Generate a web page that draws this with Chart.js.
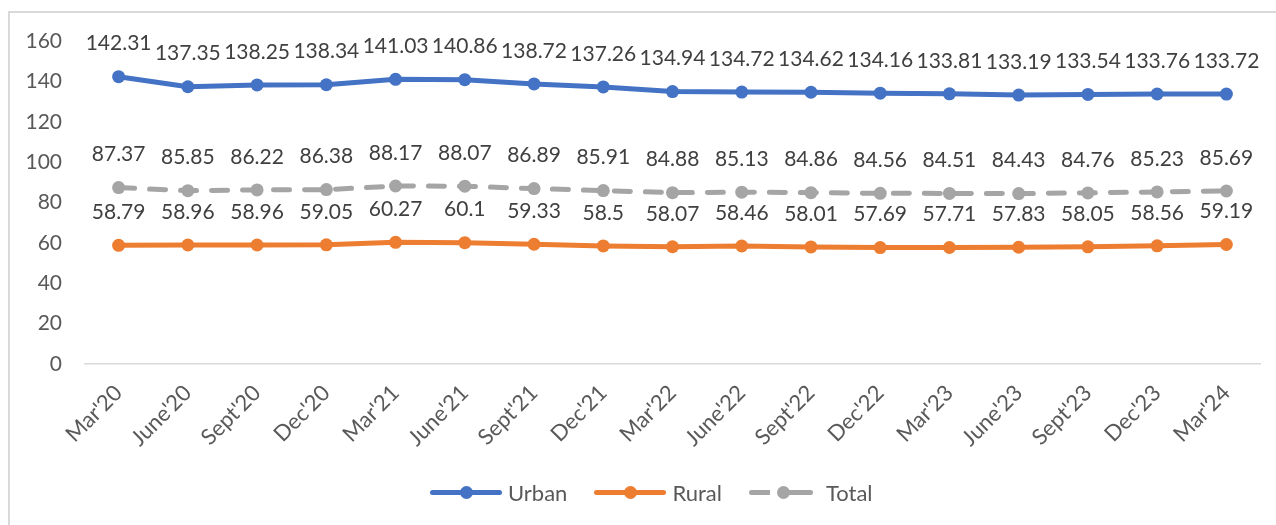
<!DOCTYPE html>
<html>
<head>
<meta charset="utf-8">
<script src="https://cdn.jsdelivr.net/npm/chart.js@4.4.1/dist/chart.umd.min.js"></script>
<style>
body { margin: 0; background: #fff; }
#wrap { position: relative; width: 1276px; height: 525px; overflow: hidden; font-family: Lato, sans-serif; }
#frame { position: absolute; left: 8px; top: 11px; width: 1400px; height: 600px; border-left: 2px solid #d9d9d9; border-top: 2px solid #d9d9d9; }
#chart { position: absolute; left: 0; top: 0; }
#legend { position: absolute; left: 430px; top: 479px; height: 26px; display: flex; align-items: center; font-size: 22px; color: #595959; }
#legend .item { display: flex; align-items: center; margin-right: 27px; }
#legend .mk { position: relative; width: 72px; height: 5px; border-radius: 3px; margin-right: 6px; }
#legend .mk::after { content: ""; position: absolute; left: 50%; top: 50%; width: 13px; height: 13px; margin: -6.5px 0 0 -6.5px; border-radius: 50%; background: inherit; }
#legend .mk.dash { width: 64px; margin-right: 13px; background: none; }
#legend .mk.dash::before { content: ""; position: absolute; left: 0; top: 0; height: 5px; width: 64px; border-radius: 3px;
  background: linear-gradient(to right, #a5a5a5 0 21px, transparent 21px 36px, #a5a5a5 36px 64px); }
#legend .mk.dash::after { left: 35px; background: #a5a5a5; }
</style>
</head>
<body>
<div id="wrap">
	<div id="frame"></div>
	<canvas id="chart" width="1276" height="525"></canvas>
	<div id="legend">
		<span class="item"><span class="mk" style="background:#4472C4"></span>Urban</span>
		<span class="item"><span class="mk" style="background:#ED7D31"></span>Rural</span>
		<span class="item"><span class="mk dash"></span>Total</span>
	</div>
</div>
<script>
// Quarters on the x axis
const quarters = ["Mar'20", "June'20", "Sept'20", "Dec'20", "Mar'21", "June'21", "Sept'21", "Dec'21",
	"Mar'22", "June'22", "Sept'22", "Dec'22", "Mar'23", "June'23", "Sept'23", "Dec'23", "Mar'24"];

const urban = [142.31, 137.35, 138.25, 138.34, 141.03, 140.86, 138.72, 137.26, 134.94, 134.72, 134.62, 134.16, 133.81, 133.19, 133.54, 133.76, 133.72];
const rural = [58.79, 58.96, 58.96, 59.05, 60.27, 60.1, 59.33, 58.5, 58.07, 58.46, 58.01, 57.69, 57.71, 57.83, 58.05, 58.56, 59.19];
const total = [87.37, 85.85, 86.22, 86.38, 88.17, 88.07, 86.89, 85.91, 84.88, 85.13, 84.86, 84.56, 84.51, 84.43, 84.76, 85.23, 85.69];

// y axis range
const yMin = 0;
const yMax = 160;
const yStep = 20;

// Draws each value above its point
const valueLabels = {
	id: 'valueLabels',
	afterDatasetsDraw(chart) {
		const ctx = chart.ctx;
		ctx.save();
		ctx.font = '21px Lato';
		ctx.fillStyle = '#404040';
		ctx.textAlign = 'center';
		ctx.textBaseline = 'middle';
		chart.data.datasets.forEach((ds, i) => {
			chart.getDatasetMeta(i).data.forEach((pt, j) => {
				ctx.fillText(String(ds.data[j]), pt.x, pt.y - 33);
			});
		});
		ctx.restore();
	}
};

function lineSet(label, data, color, dashed) {
	return {
		label: label,
		data: data,
		borderColor: color,
		backgroundColor: color,
		borderWidth: 5,
		borderDash: dashed ? [16, 15] : [],
		borderCapStyle: dashed ? 'round' : 'butt',
		borderJoinStyle: 'round',
		tension: 0,
		pointRadius: 6.5,
		pointBorderWidth: 0,
		pointBackgroundColor: color
	};
}

const config = {
	type: 'line',
	data: {
		labels: quarters,
		datasets: [
			lineSet('Urban', urban, '#4472C4', false),
			lineSet('Rural', rural, '#ED7D31', false),
			lineSet('Total', total, '#A5A5A5', true)
		]
	},
	options: {
		responsive: false,
		animation: false,
		devicePixelRatio: 1,
		layout: { padding: { top: 41, right: 15, left: 0, bottom: 0 } },
		plugins: {
			legend: { display: false },
			tooltip: { enabled: false }
		},
		scales: {
			x: {
				offset: true,
				grid: { display: false },
				border: { display: false },
				ticks: {
					maxRotation: 45,
					minRotation: 45,
					padding: 8,
					color: '#595959',
					font: { family: 'Lato', size: 22 }
				},
				afterFit: (scale) => { scale.height = 161; }
			},
			y: {
				min: yMin,
				max: yMax,
				border: { display: false },
				grid: {
					drawTicks: false,
					lineWidth: 1.5,
					color: (c) => c.tick && c.tick.value === 0 ? '#d9d9d9' : 'rgba(0,0,0,0)'
				},
				ticks: {
					stepSize: yStep,
					padding: 22,
					color: '#595959',
					font: { family: 'Lato', size: 21 }
				},
				afterFit: (scale) => { scale.width = 84; }
			}
		}
	},
	plugins: [valueLabels]
};

const chart = new Chart(document.getElementById('chart'), config);
</script>
</body>
</html>
